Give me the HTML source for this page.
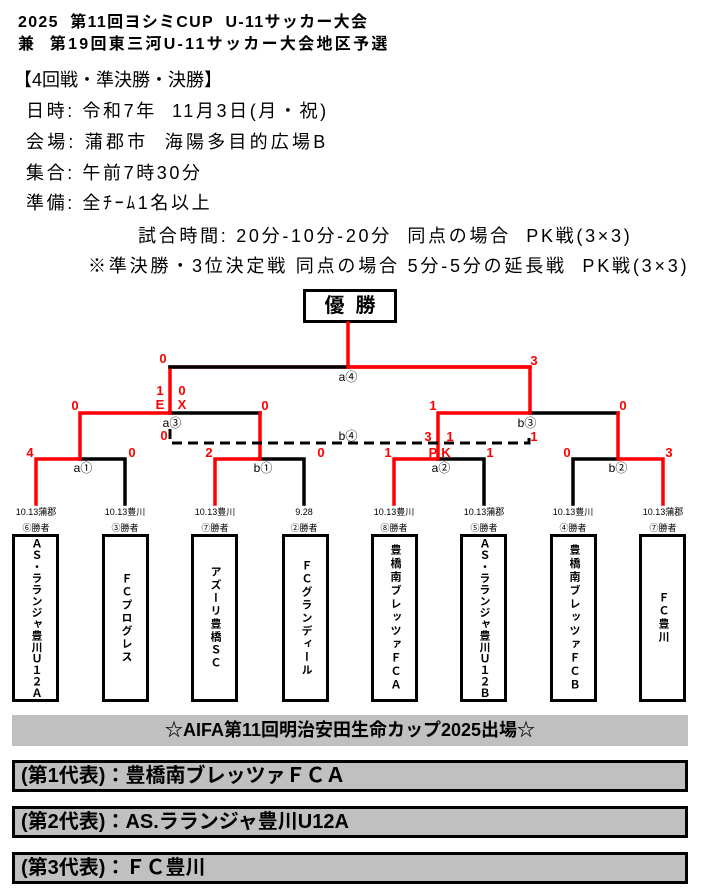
<!DOCTYPE html>
<html><head><meta charset="utf-8"><style>
body{margin:0;background:#fff;width:703px;height:893px;overflow:hidden;position:relative;font-family:"Liberation Sans","Noto Sans CJK JP",sans-serif}
.t{position:absolute;white-space:nowrap;color:#000}
.box{position:absolute;top:534px;width:41px;height:162px;border:3px solid #000;display:flex;align-items:center;justify-content:center}
.v{writing-mode:vertical-rl;text-orientation:upright;font-weight:bold;font-size:11px;line-height:11px}
.row{position:absolute;left:12px;width:664px;background:#c0c0c0;border:3px solid #000;height:26px;font-weight:bold;font-size:20px;line-height:26px;padding-left:6px;box-sizing:content-box}
.i{font-size:18px;letter-spacing:2.6px}
</style></head><body>
<div class="t" style="left:18px;top:8px;font-size:16px;font-weight:bold;letter-spacing:1.3px">2025&nbsp;&nbsp;第11回ヨシミCUP&nbsp;&nbsp;U-11サッカー大会</div>
<div class="t" style="left:18px;top:30px;font-size:16px;font-weight:bold;letter-spacing:2.3px">兼&nbsp;&nbsp;第19回東三河U-11サッカー大会地区予選</div>
<div class="t" style="left:14px;top:66px;font-size:18px;">【4回戦・準決勝・決勝】</div>
<div class="t i" style="left:26px;top:97px;">日時: 令和7年&nbsp;&nbsp;11月3日(月・祝)</div>
<div class="t i" style="left:26px;top:128px;letter-spacing:3.2px">会場: 蒲郡市&nbsp;&nbsp;海陽多目的広場B</div>
<div class="t i" style="left:26px;top:159px;">集合: 午前7時30分</div>
<div class="t i" style="left:26px;top:189px;">準備: 全ﾁｰﾑ1名以上</div>
<div class="t i" style="left:138px;top:222px;letter-spacing:2.7px">試合時間: 20分-10分-20分&nbsp;&nbsp;同点の場合&nbsp;&nbsp;PK戦(3×3)</div>
<div class="t i" style="left:88px;top:252px;letter-spacing:2.8px">※準決勝・3位決定戦 同点の場合 5分-5分の延長戦&nbsp;&nbsp;PK戦(3×3)</div>

<div class="t" style="left:303px;top:289px;width:88px;height:28px;border:3px solid #000;text-align:center;font-size:20px;font-weight:bold;line-height:28px;">優&nbsp;&nbsp;勝</div>

<svg width="703" height="893" style="position:absolute;left:0;top:0" xmlns="http://www.w3.org/2000/svg">
<g stroke-width="3.5" fill="none" stroke-linecap="square">
<path d="M348 323 V367 M170 367 H530 M170 367 V413 M530 367 V413" stroke="#f00"/>
<path d="M170 367 H348" stroke="#000"/>
<path d="M348 367 H530" stroke="#f00"/>
<path d="M170 413 H260" stroke="#000"/>
<path d="M80 413 H170 M80 413 V459 M260 413 V459" stroke="#f00"/>
<path d="M530 413 H618" stroke="#000"/>
<path d="M438 413 H530 M438 413 V459 M618 413 V459" stroke="#f00"/>
<path d="M80 459 H125 V504" stroke="#000"/>
<path d="M36 504 V459 H80" stroke="#f00"/>
<path d="M260 459 H304 V504" stroke="#000"/>
<path d="M215 504 V459 H260" stroke="#f00"/>
<path d="M438 459 H484 V504" stroke="#000"/>
<path d="M394 504 V459 H438" stroke="#f00"/>
<path d="M573 504 V459 H618" stroke="#000"/>
<path d="M618 459 H663 V504" stroke="#f00"/>
</g>
<path d="M170 429 V443 H529 V433" stroke="#000" stroke-width="3" fill="none" stroke-dasharray="10,6"/>
<g font-family="Liberation Sans, sans-serif" font-weight="bold" font-size="13" fill="#f00" text-anchor="middle">
<text x="163" y="363">0</text><text x="534" y="365">3</text>
<text x="160" y="395">1</text><text x="160" y="409">E</text>
<text x="182" y="395">0</text><text x="182" y="409">X</text>
<text x="75" y="410">0</text><text x="265" y="410">0</text>
<text x="164" y="440">0</text>
<text x="30" y="457">4</text><text x="132" y="457">0</text><text x="209" y="457">2</text><text x="321" y="457">0</text>
<text x="433" y="410">1</text><text x="623" y="410">0</text>
<text x="428" y="441">3</text><text x="450" y="441">1</text><text x="534" y="441">1</text>
<text x="388" y="457">1</text><text x="433" y="457">P</text><text x="446" y="457">K</text><text x="490" y="457">1</text>
<text x="567" y="457">0</text><text x="669" y="457">3</text>
</g>
<g font-family="Liberation Sans, 'Noto Sans CJK JP', sans-serif" font-size="12" fill="#000" text-anchor="middle">
<text x="348" y="381">a④</text><text x="348" y="440">b④</text>
<text x="172" y="427">a③</text><text x="527" y="427">b③</text>
<text x="83" y="472">a①</text><text x="263" y="472">b①</text>
<text x="441" y="472">a②</text><text x="618" y="472">b②</text>
</g>
<g font-family="Liberation Sans, 'Noto Sans CJK JP', sans-serif" font-size="9" fill="#000" text-anchor="middle">
<text x="36" y="515">10.13蒲郡</text><text x="125" y="515">10.13豊川</text>
<text x="215" y="515">10.13豊川</text><text x="304" y="515">9.28</text>
<text x="394" y="515">10.13豊川</text><text x="484" y="515">10.13蒲郡</text>
<text x="573" y="515">10.13豊川</text><text x="663" y="515">10.13蒲郡</text>
<text x="36" y="531">⑥勝者</text><text x="125" y="531">③勝者</text>
<text x="215" y="531">⑦勝者</text><text x="304" y="531">②勝者</text>
<text x="394" y="531">⑧勝者</text><text x="484" y="531">⑤勝者</text>
<text x="573" y="531">④勝者</text><text x="663" y="531">⑦勝者</text>
</g>
</svg>

<div class="box" style="left:12px"><div class="v" style="letter-spacing:0.5px">ＡＳ・ラランジャ豊川Ｕ１２Ａ</div></div>
<div class="box" style="left:102px"><div class="v" style="letter-spacing:2px">ＦＣプログレス</div></div>
<div class="box" style="left:191px"><div class="v" style="letter-spacing:2px">アズーリ豊橋ＳＣ</div></div>
<div class="box" style="left:282px"><div class="v" style="letter-spacing:2px">ＦＣグランディール</div></div>
<div class="box" style="left:371px"><div class="v" style="letter-spacing:2.5px">豊橋南ブレッツァＦＣＡ</div></div>
<div class="box" style="left:460px"><div class="v" style="letter-spacing:0.5px">ＡＳ・ラランジャ豊川Ｕ１２Ｂ</div></div>
<div class="box" style="left:550px"><div class="v" style="letter-spacing:2.5px">豊橋南ブレッツァＦＣＢ</div></div>
<div class="box" style="left:639px"><div class="v" style="letter-spacing:2px">ＦＣ豊川</div></div>

<div class="t" style="left:12px;top:715px;width:676px;height:31px;background:#c0c0c0;text-align:center;font-weight:bold;font-size:18px;line-height:31px;">☆AIFA第11回明治安田生命カップ2025出場☆</div>
<div class="row" style="top:760px">(第1代表)：豊橋南ブレッツァＦＣＡ</div>
<div class="row" style="top:806px">(第2代表)：AS.ラランジャ豊川U12A</div>
<div class="row" style="top:852px">(第3代表)：ＦＣ豊川</div>
</body></html>
